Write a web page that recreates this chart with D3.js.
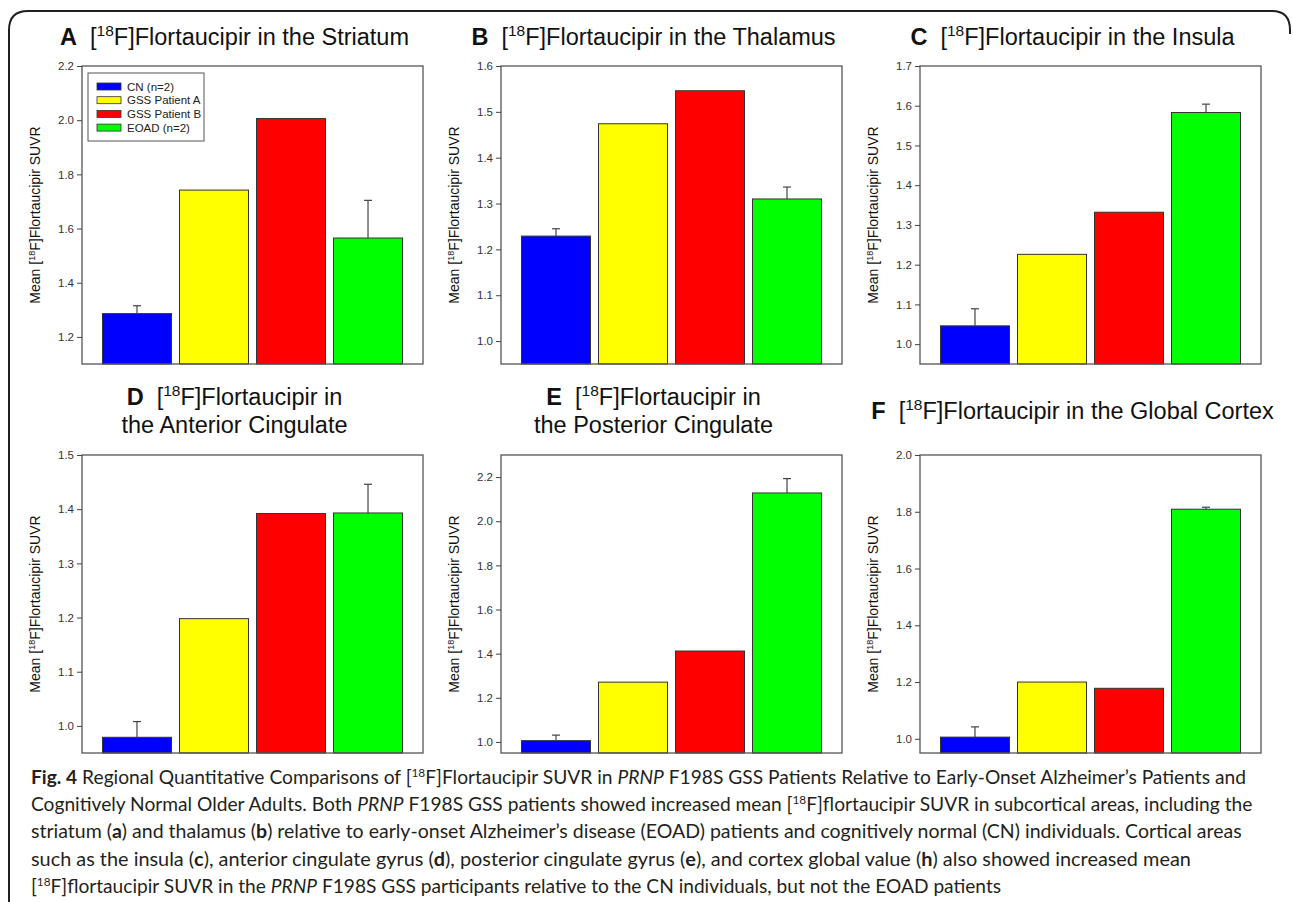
<!DOCTYPE html>
<html lang="en">
<head>
  <meta charset="UTF-8">
  <title>Fig. 4 Flortaucipir SUVR</title>
  <script src="https://d3js.org/d3.v7.min.js"></script>
  <style>
    body { margin: 0; background: #fff; }
    svg { display: block; }
  </style>
</head>
<body>
  <svg width="1293" height="902"></svg>
  <script>
    // groups and colours
    var groups = ["CN (n=2)", "GSS Patient A", "GSS Patient B", "EOAD (n=2)"];
    var groupColors = ["#0000ff", "#ffff00", "#ff0000", "#00ff00"];

    // mean SUVR per region, and the upper error (SEM) of each bar
    var striatumMean = [1.286, 1.742, 2.006, 1.565];
    var striatumErr = [0.029, 0, 0, 0.139];
    var thalamusMean = [1.229, 1.474, 1.546, 1.310];
    var thalamusErr = [0.016, 0, 0, 0.026];
    var insulaMean = [1.046, 1.226, 1.332, 1.583];
    var insulaErr = [0.043, 0, 0, 0.021];
    var antCingMean = [0.979, 1.198, 1.392, 1.393];
    var antCingErr = [0.029, 0, 0, 0.053];
    var postCingMean = [1.006, 1.271, 1.412, 2.128];
    var postCingErr = [0.025, 0, 0, 0.065];
    var globalMean = [1.006, 1.200, 1.178, 1.809];
    var globalErr = [0.036, 0, 0, 0.007];

    // y axis tick labels
    var striatumTicks = [1.2, 1.4, 1.6, 1.8, 2.0, 2.2];
    var thalamusTicks = [1.0, 1.1, 1.2, 1.3, 1.4, 1.5, 1.6];
    var insulaTicks = [1.0, 1.1, 1.2, 1.3, 1.4, 1.5, 1.6, 1.7];
    var antCingTicks = [1.0, 1.1, 1.2, 1.3, 1.4, 1.5];
    var postCingTicks = [1.0, 1.2, 1.4, 1.6, 1.8, 2.0, 2.2];
    var globalTicks = [1.0, 1.2, 1.4, 1.6, 1.8, 2.0];

    var panels = [
      { letter: "A", title: ["in the Striatum"], mean: striatumMean, err: striatumErr, domain: [1.1, 2.2], ticks: striatumTicks, x: 82, y: 66, legend: true },
      { letter: "B", title: ["in the Thalamus"], mean: thalamusMean, err: thalamusErr, domain: [0.95, 1.6], ticks: thalamusTicks, x: 501, y: 66 },
      { letter: "C", title: ["in the Insula"], mean: insulaMean, err: insulaErr, domain: [0.95, 1.7], ticks: insulaTicks, x: 920, y: 66 },
      { letter: "D", title: ["in", "the Anterior Cingulate"], mean: antCingMean, err: antCingErr, domain: [0.95, 1.5], ticks: antCingTicks, x: 82, y: 455 },
      { letter: "E", title: ["in", "the Posterior Cingulate"], mean: postCingMean, err: postCingErr, domain: [0.95, 2.3], ticks: postCingTicks, x: 501, y: 455 },
      { letter: "F", title: ["in the Global Cortex"], mean: globalMean, err: globalErr, domain: [0.95, 2.0], ticks: globalTicks, x: 920, y: 455 }
    ];

    var svg = d3.select("svg");
    var W = 341, H = 298;
    var font = "'Liberation Sans', Arial, Helvetica, sans-serif";

    // rounded outer frame
    svg.append("path")
      .attr("d", "M9,902 L9,30 Q9,11 28,11 L1272,11 Q1290,11 1290,30 L1290,34")
      .attr("fill", "none")
      .attr("stroke", "#231f20")
      .attr("stroke-width", 2);

    panels.forEach(function (p) {
      var g = svg.append("g").attr("transform", "translate(" + p.x + "," + p.y + ")");

      var xScale = d3.scaleBand().domain(groups).range([0, W])
        .paddingInner(0.104).paddingOuter(0.266);
      var yScale = d3.scaleLinear().domain(p.domain).range([H, 0]);

      var data = groups.map(function (gname, i) {
        return { name: gname, mean: p.mean[i], err: p.err[i], color: groupColors[i] };
      });

      // bars
      g.selectAll("rect.bar")
        .data(data)
        .enter()
        .append("rect")
        .attr("class", "bar")
        .attr("x", function (d) { return xScale(d.name); })
        .attr("y", function (d) { return yScale(d.mean); })
        .attr("width", xScale.bandwidth())
        .attr("height", function (d) { return H - yScale(d.mean); })
        .attr("fill", function (d) { return d.color; })
        .attr("stroke", "#333")
        .attr("stroke-width", 1);

      // upper error bars
      var eb = g.selectAll("g.err")
        .data(data.filter(function (d) { return d.err > 0; }))
        .enter()
        .append("g")
        .attr("class", "err")
        .attr("stroke", "#444")
        .attr("stroke-width", 1.2);
      eb.append("line")
        .attr("x1", function (d) { return xScale(d.name) + xScale.bandwidth() / 2; })
        .attr("x2", function (d) { return xScale(d.name) + xScale.bandwidth() / 2; })
        .attr("y1", function (d) { return yScale(d.mean); })
        .attr("y2", function (d) { return yScale(d.mean + d.err); });
      eb.append("line")
        .attr("x1", function (d) { return xScale(d.name) + xScale.bandwidth() / 2 - 4; })
        .attr("x2", function (d) { return xScale(d.name) + xScale.bandwidth() / 2 + 4; })
        .attr("y1", function (d) { return yScale(d.mean + d.err); })
        .attr("y2", function (d) { return yScale(d.mean + d.err); });

      // plot frame
      g.append("rect")
        .attr("width", W)
        .attr("height", H)
        .attr("fill", "none")
        .attr("stroke", "#555")
        .attr("stroke-width", 1.3);

      // y axis
      var yAxis = g.append("g")
        .call(d3.axisLeft(yScale).tickValues(p.ticks).tickFormat(d3.format(".1f")).tickSize(5).tickPadding(3));
      yAxis.select(".domain").remove();
      yAxis.selectAll("line").attr("stroke", "#444");
      yAxis.selectAll("text")
        .style("font-family", font)
        .style("font-size", "11.5px")
        .attr("fill", "#333");

      // y label
      var yl = g.append("text")
        .attr("transform", "translate(-42," + H / 2 + ")rotate(-90)")
        .attr("text-anchor", "middle")
        .style("font-family", font)
        .style("font-size", "14px")
        .attr("fill", "#111");
      yl.append("tspan").text("Mean [");
      yl.append("tspan").attr("dy", -5).style("font-size", "9px").text("18");
      yl.append("tspan").attr("dy", 5).text("F]Flortaucipir SUVR");

      // title
      var cx = W / 2 - 18;
      var oneLine = p.title.length === 1;
      var baseY = oneLine ? (p.y === 66 ? 45 - p.y : 419 - p.y) : 405 - p.y;
      var t = g.append("text")
        .attr("x", cx)
        .attr("y", baseY)
        .attr("text-anchor", "middle")
        .style("font-family", font)
        .style("font-size", "23.5px")
        .attr("fill", "#111");
      t.append("tspan").style("font-weight", "bold").text(p.letter + "\u00a0\u00a0");
      t.append("tspan").text("[");
      t.append("tspan").attr("dy", -9).style("font-size", "15.5px").text("18");
      t.append("tspan").attr("dy", 9).text("F]Flortaucipir " + p.title[0]);
      if (!oneLine) {
        g.append("text")
          .attr("x", cx)
          .attr("y", baseY + 28)
          .attr("text-anchor", "middle")
          .style("font-family", font)
          .style("font-size", "23.5px")
          .attr("fill", "#111")
          .text(p.title[1]);
      }

      // legend
      if (p.legend) {
        var lg = g.append("g").attr("transform", "translate(6,7)");
        lg.append("rect")
          .attr("width", 116)
          .attr("height", 68)
          .attr("fill", "#fff")
          .attr("stroke", "#555")
          .attr("stroke-width", 1);
        var items = lg.selectAll("g.item")
          .data(data)
          .enter()
          .append("g")
          .attr("class", "item")
          .attr("transform", function (d, i) { return "translate(9," + (10 + i * 13.7) + ")"; });
        items.append("rect")
          .attr("width", 24)
          .attr("height", 7)
          .attr("fill", function (d) { return d.color; })
          .attr("stroke", "#333")
          .attr("stroke-width", 0.8);
        items.append("text")
          .attr("x", 30)
          .attr("y", 7.5)
          .style("font-family", font)
          .style("font-size", "11.5px")
          .attr("fill", "#222")
          .text(function (d) { return d.name; });
      }
    });

    // caption
    var captionLines = [
      [["b", "Fig. 4"], ["", " Regional Quantitative Comparisons of ["], ["s", "18"], ["", "F]Flortaucipir SUVR in "], ["i", "PRNP"], ["", " F198S GSS Patients Relative to Early-Onset Alzheimer\u2019s Patients and"]],
      [["", "Cognitively Normal Older Adults. Both "], ["i", "PRNP"], ["", " F198S GSS patients showed increased mean ["], ["s", "18"], ["", "F]flortaucipir SUVR in subcortical areas, including the"]],
      [["", "striatum ("], ["b", "a"], ["", ") and thalamus ("], ["b", "b"], ["", ") relative to early-onset Alzheimer\u2019s disease (EOAD) patients and cognitively normal (CN) individuals. Cortical areas"]],
      [["", "such as the insula ("], ["b", "c"], ["", "), anterior cingulate gyrus ("], ["b", "d"], ["", "), posterior cingulate gyrus ("], ["b", "e"], ["", "), and cortex global value ("], ["b", "h"], ["", ") also showed increased mean"]],
      [["", "["], ["s", "18"], ["", "F]flortaucipir SUVR in the "], ["i", "PRNP"], ["", " F198S GSS participants relative to the CN individuals, but not the EOAD patients"]]
    ];
    var captionEnds = [1247, 1253, 1242, 1192, 1002];

    captionLines.forEach(function (runs, li) {
      var txt = svg.append("text")
        .attr("x", 31)
        .attr("y", 784 + li * 27.2)
        .style("font-family", "Lato, 'Open Sans', sans-serif")
        .style("font-size", "19.5px")
        .attr("fill", "#231f20");
      var shifted = false;
      runs.forEach(function (r) {
        var ts = txt.append("tspan").text(r[1]);
        if (shifted) { ts.attr("dy", 7); shifted = false; }
        if (r[0] === "b") ts.style("font-weight", "bold");
        if (r[0] === "i") ts.style("font-style", "italic");
        if (r[0] === "s") { ts.attr("dy", -7).style("font-size", "12px"); shifted = true; }
      });
      // scale the font so the line ends where the printed line does
      var natural = txt.node().getComputedTextLength();
      var k = (captionEnds[li] - 31) / natural;
      txt.style("font-size", (19.5 * k) + "px");
      txt.selectAll("tspan").filter(function () { return this.style.fontSize === "12px"; })
        .style("font-size", (12 * k) + "px");
    });
  </script>
</body>
</html>
